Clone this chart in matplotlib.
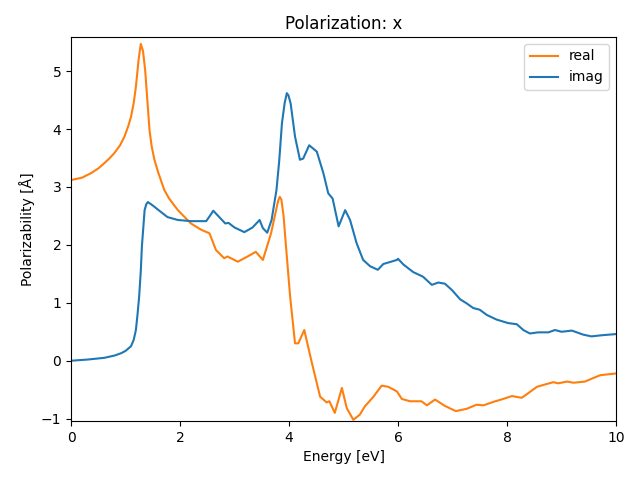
import matplotlib
matplotlib.use("Agg")
import matplotlib.pyplot as plt

# energies and values
real_x = [0.0, 0.2, 0.37, 0.5, 0.61, 0.7, 0.79, 0.9, 0.98, 1.05, 1.10, 1.15, 1.19, 1.24, 1.28, 1.32,
          1.36, 1.40, 1.44, 1.48, 1.53, 1.60, 1.71, 1.80, 1.96,
          2.20, 2.39, 2.54, 2.66, 2.81, 2.87, 3.06, 3.24, 3.39, 3.52, 3.67, 3.80, 3.83, 3.86, 3.90, 3.93,
          4.02, 4.11, 4.17, 4.28, 4.42, 4.57, 4.69, 4.74, 4.84, 4.97, 5.06, 5.18, 5.30, 5.39,
          5.55, 5.70, 5.82, 5.98, 6.07, 6.22, 6.43, 6.53, 6.68, 6.86, 7.06, 7.26, 7.44, 7.57,
          7.75, 7.93, 8.09, 8.27, 8.39, 8.55, 8.70, 8.85, 8.94, 9.10, 9.22, 9.43, 9.58, 9.71, 10.0]
real_y = [3.12, 3.16, 3.24, 3.32, 3.41, 3.49, 3.58, 3.72, 3.87, 4.05, 4.21, 4.45, 4.73, 5.20, 5.47, 5.35,
          5.02, 4.50, 3.98, 3.70, 3.47, 3.25, 2.95, 2.80, 2.60,
          2.37, 2.26, 2.20, 1.91, 1.77, 1.80, 1.71, 1.80, 1.88, 1.74, 2.20, 2.76, 2.83, 2.78, 2.50, 2.14,
          1.11, 0.30, 0.30, 0.53, -0.04, -0.62, -0.72, -0.70, -0.90, -0.47, -0.82, -1.02, -0.93, -0.79,
          -0.62, -0.43, -0.45, -0.53, -0.66, -0.70, -0.70, -0.77, -0.67, -0.78, -0.87, -0.83, -0.76, -0.77,
          -0.71, -0.66, -0.61, -0.64, -0.56, -0.45, -0.41, -0.37, -0.39, -0.36, -0.38, -0.36, -0.30, -0.25, -0.22]

imag_x = [0.0, 0.3, 0.61, 0.8, 0.92, 1.0, 1.10, 1.15, 1.19, 1.22, 1.25, 1.28, 1.30, 1.33, 1.35, 1.38,
          1.41, 1.50, 1.62, 1.77, 1.96, 2.20, 2.48,
          2.54, 2.61, 2.72, 2.83, 2.89, 3.00, 3.18, 3.33, 3.46, 3.52, 3.60, 3.68, 3.77, 3.82, 3.87,
          3.92, 3.96, 3.99, 4.03, 4.11, 4.20, 4.26, 4.37, 4.51, 4.63, 4.72, 4.80, 4.91, 5.03, 5.12, 5.24,
          5.36, 5.49, 5.63, 5.73, 5.98, 6.00, 6.10, 6.28, 6.46, 6.62, 6.74, 6.86, 6.99, 7.14,
          7.26, 7.38, 7.50, 7.63, 7.81, 8.02, 8.18, 8.30, 8.42, 8.57, 8.76, 8.88, 9.00, 9.19,
          9.40, 9.55, 9.74, 10.0]
imag_y = [0.0, 0.02, 0.05, 0.09, 0.13, 0.17, 0.25, 0.36, 0.53, 0.80, 1.11, 1.55, 1.97, 2.35, 2.60, 2.70,
          2.74, 2.68, 2.59, 2.48, 2.43, 2.41, 2.41,
          2.49, 2.59, 2.48, 2.37, 2.38, 2.30, 2.22, 2.30, 2.43, 2.29, 2.21, 2.43, 2.95, 3.45, 4.10,
          4.45, 4.62, 4.58, 4.44, 3.87, 3.47, 3.49, 3.72, 3.61, 3.24, 2.89, 2.80, 2.32, 2.60, 2.43, 2.03,
          1.74, 1.63, 1.57, 1.67, 1.74, 1.76, 1.66, 1.53, 1.45, 1.31, 1.35, 1.33, 1.22, 1.06,
          0.99, 0.91, 0.88, 0.79, 0.71, 0.65, 0.63, 0.53, 0.47, 0.49, 0.49, 0.53, 0.50, 0.52,
          0.45, 0.42, 0.44, 0.46]

fig, ax = plt.subplots(figsize=(6.4, 4.8), dpi=100)

ax.plot(real_x, real_y, color='C1', label='real')
ax.plot(imag_x, imag_y, color='C0', label='imag')

ax.set_xlim(0, 10)
ax.set_ylim(-1.04, 5.59)
ax.set_title("Polarization: x")
ax.set_xlabel("Energy [eV]")
ax.set_ylabel("Polarizability [Å]")
ax.legend(loc='upper right')

fig.subplots_adjust(left=0.111, right=0.9625, top=0.923, bottom=0.123)
fig.savefig("out.png")
